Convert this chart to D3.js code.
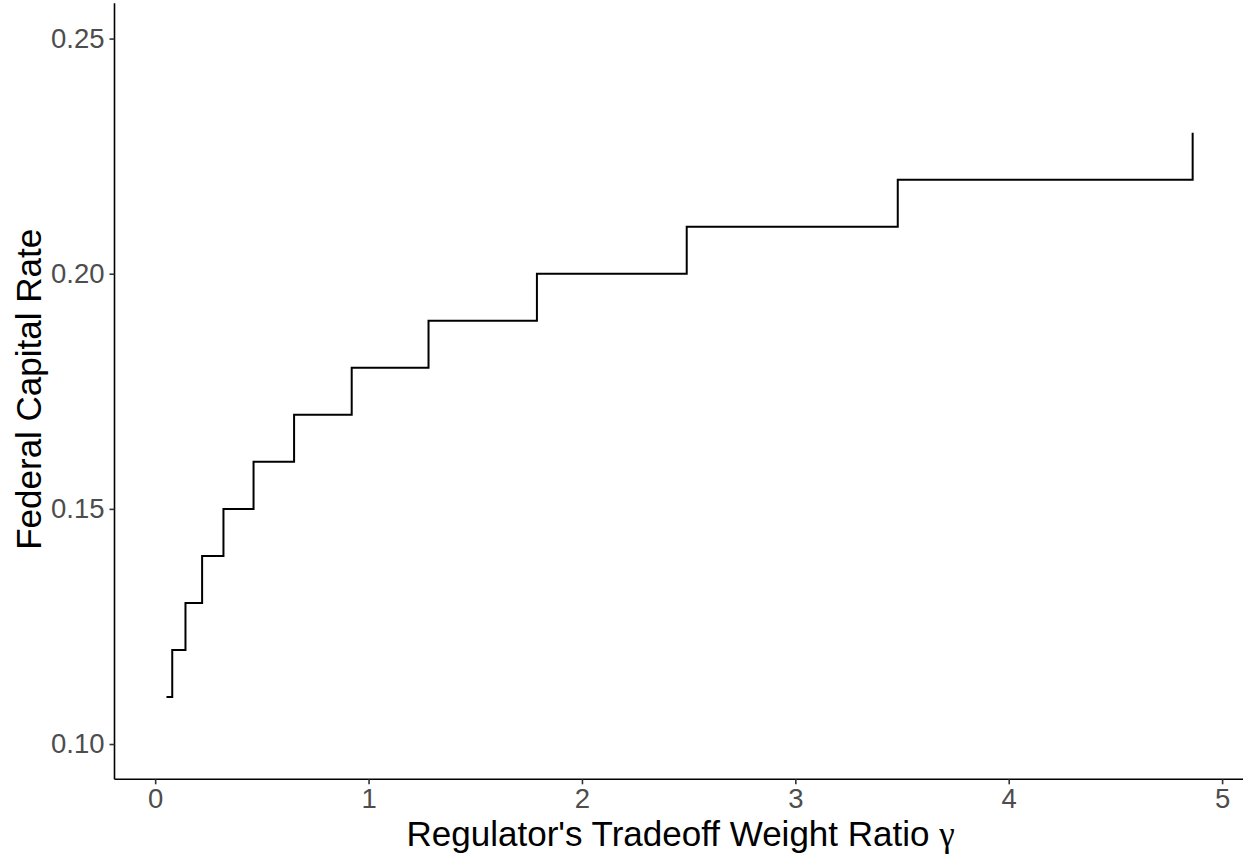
<!DOCTYPE html>
<html><head><meta charset="utf-8">
<script src="https://cdn.jsdelivr.net/npm/d3@7"></script>
<style>body{margin:0;background:#fff}svg{display:block}</style>
</head><body>
<script>
const gamma = [0.053, 0.080, 0.142, 0.220, 0.320, 0.461, 0.651, 0.921, 1.281, 1.789, 2.491, 3.480, 4.862];
const rate  = [0.11, 0.12, 0.13, 0.14, 0.15, 0.16, 0.17, 0.18, 0.19, 0.20, 0.21, 0.22, 0.23];
const xTicks = [0, 1, 2, 3, 4, 5];
const yTicks = [0.10, 0.15, 0.20, 0.25];
const xTitle = "Regulator's Tradeoff Weight Ratio ";
const xTitleSym = "γ";
const yTitle = "Federal Capital Rate";

const W = 1243, H = 854;
const svg = d3.select("body").append("svg").attr("width", W).attr("height", H);
const x = d3.scaleLinear().domain([-0.1906, 5.1026]).range([114.5, 1244]);
const y = d3.scaleLinear().domain([0.0925, 0.2575]).range([779.3, 3.3]);

const data = gamma.map((g, i) => [g, rate[i]]);
svg.append("path").datum(data)
  .attr("fill", "none").attr("stroke", "#000").attr("stroke-width", 2)
  .attr("d", d3.line().x(d => x(d[0])).y(d => y(d[1])).curve(d3.curveStepAfter));

const xa = svg.append("g").attr("transform", `translate(0,${y.range()[0]})`)
  .call(d3.axisBottom(x).tickValues(xTicks).tickFormat(d3.format("d")).tickSize(5).tickPadding(4));
const ya = svg.append("g").attr("transform", `translate(${x.range()[0]},0)`)
  .call(d3.axisLeft(y).tickValues(yTicks).tickFormat(d3.format(".2f")).tickSize(5).tickPadding(5));
[xa, ya].forEach(a => {
  a.select(".domain").attr("stroke", "#000").attr("stroke-width", 1.6);
  a.selectAll(".tick line").attr("stroke", "#333").attr("stroke-width", 1.6);
  a.selectAll(".tick text").attr("fill", "#4d4d4d")
    .style("font-family", "'Liberation Sans', Arial, sans-serif").style("font-size", "27.5px");
});
xa.select(".domain").attr("d", `M${x.range()[0]},0H${x.range()[1]}`);
ya.select(".domain").attr("d", `M0,${y.range()[0]}V${y.range()[1]}`);

const xt = svg.append("text").attr("x", (x(0) + x(5)) / 2 - 8).attr("y", 846)
  .attr("text-anchor", "middle")
  .style("font-family", "'Liberation Sans', Arial, sans-serif").style("font-size", "35px").attr("fill", "#000");
xt.append("tspan").text(xTitle);
xt.append("tspan").text(xTitleSym).style("font-family", "'Liberation Serif', 'Times New Roman', serif");

svg.append("text").attr("transform", `translate(41,${(y(0.10) + y(0.25)) / 2 - 2}) rotate(-90)`)
  .attr("text-anchor", "middle")
  .style("font-family", "'Liberation Sans', Arial, sans-serif").style("font-size", "35px").attr("fill", "#000")
  .text(yTitle);
</script>
</body></html>
